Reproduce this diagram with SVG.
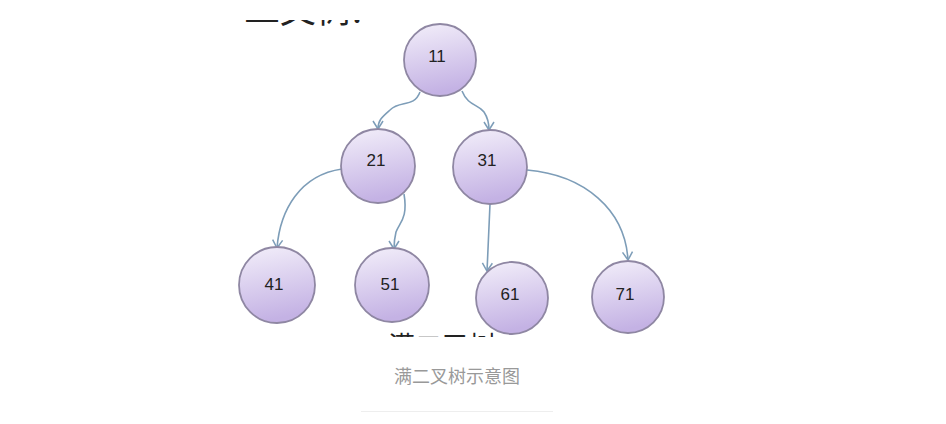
<svg xmlns="http://www.w3.org/2000/svg" width="946" height="424" viewBox="0 0 946 424">
<defs>
<linearGradient id="g" x1="0" y1="0" x2="0.2" y2="1">
<stop offset="0" stop-color="#f3effa"/>
<stop offset="1" stop-color="#c4b2e4"/>
</linearGradient>
<marker id="ah" markerWidth="12" markerHeight="12" refX="9" refY="6" orient="auto" markerUnits="userSpaceOnUse">
<path d="M1,1 L9,6 L1,11" fill="none" stroke="#7d9db8" stroke-width="1.5"/>
</marker>
<clipPath id="clipImg"><rect x="235" y="20" width="460" height="317"/></clipPath>
</defs>
<style>
.n circle{fill:url(#g);stroke:#8f87a3;stroke-width:1.8}
.n text{font-family:"Liberation Sans",Arial,sans-serif;font-size:17px;fill:#222;text-anchor:middle}
.e path{fill:none;stroke:#7d9db8;stroke-width:1.6;marker-end:url(#ah)}
.cut{font-family:"Noto Sans CJK SC",sans-serif;fill:#222}
</style>
<rect width="946" height="424" fill="#fff"/>
<g clip-path="url(#clipImg)">
<text class="cut" x="244" y="23" font-size="36">二叉树:</text>
<text class="cut" x="388" y="356" font-size="27">满二叉树</text>
</g>
<g id="connectors" class="e">
<path d="M420,92 C414,108 400,100 390,110 C382,117 378,120 378,129"/>
<path d="M462,91 C468,106 478,104 484,112 C488,118 489,122 489,130"/>
<path d="M342,169 C300,175 280,210 277,248"/>
<path d="M404,194 C408,218 400,222 396,232 C394,240 394,244 394,249"/>
<path d="M490,204 C489,230 488,250 487,271"/>
<path d="M527,170 C585,175 625,210 628,260"/>
</g>
<g id="n11" class="n"><circle cx="440" cy="60" r="36"/><text x="437" y="62">11</text></g>
<g id="n21" class="n"><circle cx="378" cy="166" r="37"/><text x="376" y="166">21</text></g>
<g id="n31" class="n"><circle cx="490" cy="167" r="37"/><text x="487" y="166">31</text></g>
<g id="n41" class="n"><circle cx="277" cy="285" r="38"/><text x="274" y="290">41</text></g>
<g id="n51" class="n"><circle cx="392" cy="285" r="37"/><text x="390" y="290">51</text></g>
<g id="n61" class="n"><circle cx="512" cy="298" r="36"/><text x="510" y="300">61</text></g>
<g id="n71" class="n"><circle cx="628" cy="297" r="36"/><text x="625" y="300">71</text></g>
<text x="457" y="383" font-family="Noto Sans CJK SC,sans-serif" font-size="18" fill="#999" text-anchor="middle">满二叉树示意图</text>
<line x1="361" y1="411.5" x2="553" y2="411.5" stroke="#eeeeee" stroke-width="1"/>
</svg>
